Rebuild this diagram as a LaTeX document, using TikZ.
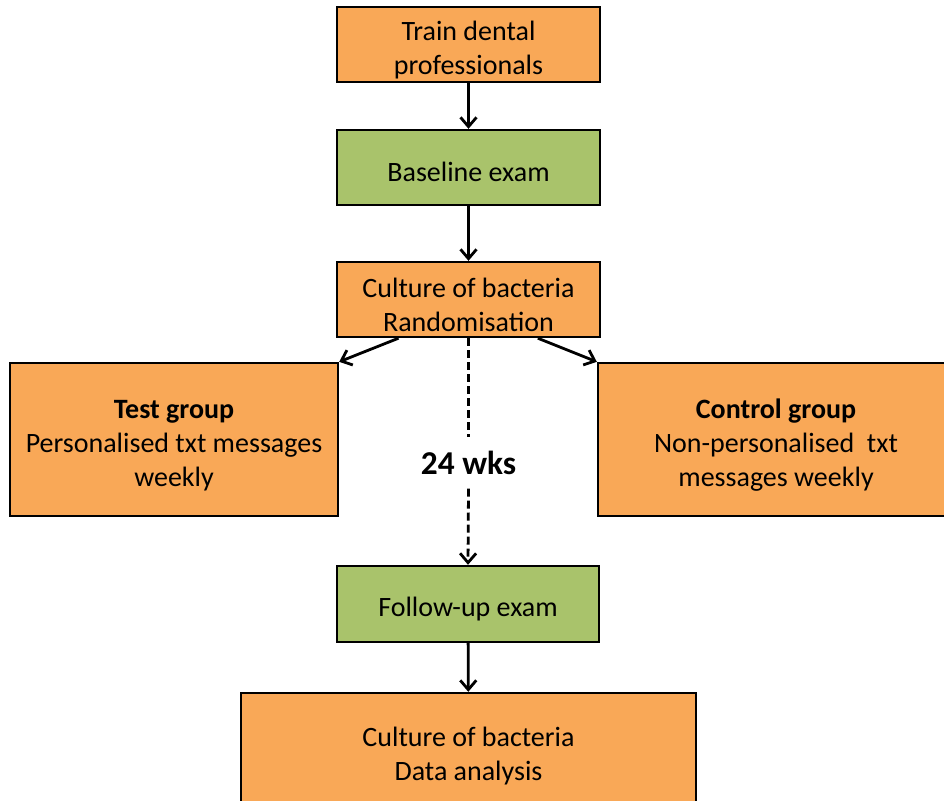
\documentclass[tikz,border=0pt]{standalone}
\usepackage{fontspec}
\setmainfont{Carlito}
\usetikzlibrary{arrows.meta}
\definecolor{boxorange}{HTML}{F9A857}
\definecolor{boxgreen}{HTML}{A9C36B}
\newcommand{\toplift}{\rule{0pt}{23pt}}
\tikzset{
  boxbase/.style={draw=black, line width=1.8pt, align=center, inner sep=0pt,
    font=\fontsize{21}{25.5}\selectfont},
  single/.style={execute at begin node={\rule{0pt}{21.5pt}}},
  obox/.style={boxbase, fill=boxorange},
  gbox/.style={boxbase, fill=boxgreen},
  arr/.style={line width=2.1pt, -{Straight Barb[length=7pt,width=12pt,line width=2.1pt]}},
  darr/.style={arr, dash pattern=on 6pt off 3pt},
  dline/.style={line width=2.1pt, dash pattern=on 6pt off 3pt}
}
\begin{document}
\begin{tikzpicture}[x=0.75pt,y=-0.75pt]
\useasboundingbox (0,0) rectangle (944,800);
\node[obox, minimum width=197.25pt, minimum height=56.25pt] (a) at (468.5,44.5) {\toplift Train dental\\professionals};
\node[gbox, single, minimum width=197.25pt, minimum height=56.25pt] (b) at (468.5,167.5) {Baseline exam};
\node[obox, minimum width=197.25pt, minimum height=56.25pt] (c) at (468.5,299.5) {\toplift Culture of bacteria\\Randomisation};
\node[obox, minimum width=246pt, minimum height=114.75pt] (t) at (174,439.5) {\toplift\textbf{Test group}\\Personalised txt messages\\weekly};
\node[obox, minimum width=267pt, minimum height=114.75pt] (k) at (776,439.5) {\toplift\textbf{Control group}\\Non-personalised\ \ txt\\messages weekly};
\node[font=\fontsize{25}{30}\selectfont\bfseries, inner sep=0pt, minimum height=38pt] (w) at (468.5,463) {24 wks};
\node[gbox, single, minimum width=196.5pt, minimum height=57pt] (f) at (468,604) {Follow-up exam};
\node[obox, minimum width=341.25pt, minimum height=85.5pt] (d) at (468.5,750) {\toplift Culture of bacteria\\Data analysis};
\draw[arr] (a) -- (b);
\draw[arr] (b) -- (c);
\draw[arr] ([xshift=-52.5pt]c.south) -- (t.north east);
\draw[arr] ([xshift=52pt]c.south) -- (k.north west);
\draw[dline] (c.south) -- (w.north);
\draw[darr] (w.south) -- (f.north);
\draw[arr] (f) -- (d);
\end{tikzpicture}
\end{document}
